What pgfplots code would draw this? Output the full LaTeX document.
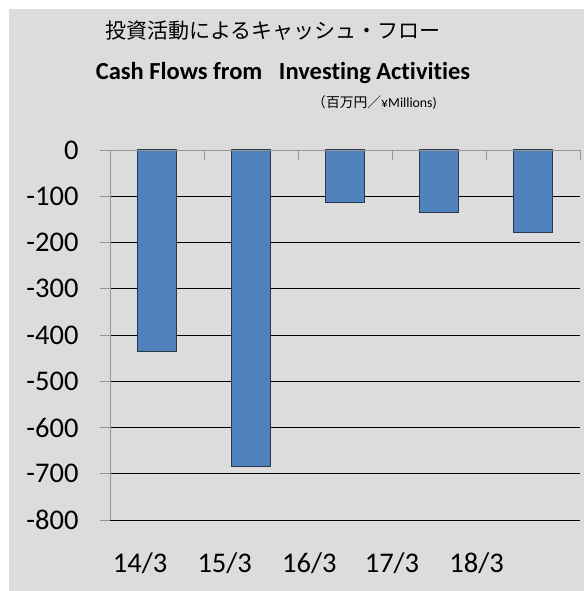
\documentclass[border=0pt]{standalone}
\usepackage{fontspec}
\setmainfont{Carlito}[Ligatures={NoCommon}]
\newfontfamily\jp{Noto Sans CJK JP}
\usepackage{pgfplots}
\pgfplotsset{compat=1.18}
\definecolor{bg}{RGB}{220,220,220}
\definecolor{barblue}{RGB}{79,129,189}
\definecolor{baredge}{RGB}{42,56,76}
\definecolor{axgray}{RGB}{150,150,150}

\begin{document}
\begin{tikzpicture}[x=1pt,y=1pt]
  \path[use as bounding box] (0,0) rectangle (584,591);
  \fill[bg] (9,0) rectangle (584,582);
  \node[font=\jp\fontsize{21}{24}\selectfont] at (273,560) {投資活動によるキャッシュ・フロー};
  \node[font=\bfseries\fontsize{24.5}{28}\selectfont] at (283,518) {Cash Flows from\ \ \ Investing Activities};
  \node[anchor=east, font=\fontsize{13.8}{17}\selectfont, inner sep=0pt] at (437,488) {{\jp（百万円／}¥Millions)};
  \begin{axis}[
    at={(110pt,71pt)}, anchor=south west,
    width=470pt, height=370pt, scale only axis,
    xmin=-0.5, xmax=4.5,
    ymin=-800, ymax=0,
    ybar, bar width=38.6pt,
    ytick={-800,-700,...,0},
    xtick={-0.18,0.72,1.62,2.5,3.4},
    xticklabels={14/3,15/3,16/3,17/3,18/3},
    x tick style={draw=none},
    y tick style={axgray, line width=0.8pt},
    major tick length=10pt,
    tick align=outside,
    ymajorgrids=true,
    major grid style={black, line width=0.8pt},
    separate axis lines,
    axis y line*=left,
    x axis line style={draw=none},
    y axis line style={axgray, line width=0.8pt, -},
    /pgf/number format/assume math mode=true,
    ticklabel style={font=\fontsize{28.5}{32}\selectfont},
    xticklabel style={yshift=-19pt},
    yticklabel style={xshift=-18pt},
    clip=false,
  ]
    \addplot[fill=barblue, draw=baredge, line width=1.2pt] coordinates {
      (0,-435) (1,-684) (2,-113) (3,-135) (4,-179)
    };
    \draw[axgray, line width=0.8pt] (axis cs:-0.5,0) -- (axis cs:4.5,0);
    \pgfplotsinvokeforeach{0.5,1.5,2.5,3.5,4.5}{
      \draw[axgray, line width=0.8pt] (axis cs:#1,0) -- ++(0pt,-10pt);
    }
  \end{axis}
\end{tikzpicture}
\end{document}
